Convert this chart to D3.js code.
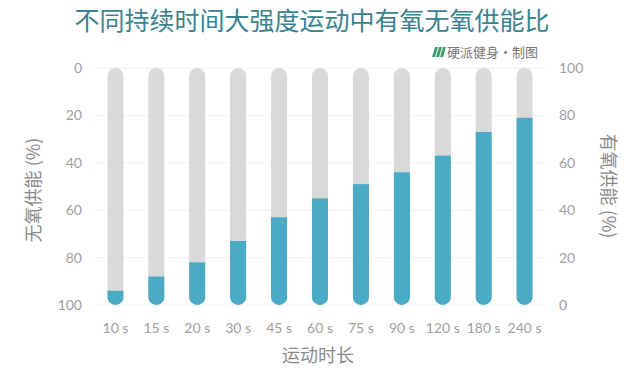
<!DOCTYPE html>
<html>
<head>
<meta charset="utf-8">
<script src="https://cdn.jsdelivr.net/npm/d3@7"></script>
<style>
  body { margin: 0; background: #fff; }
  svg { display: block; font-family: "Noto Sans CJK SC", "Lato", sans-serif; }
</style>
</head>
<body>
<script>
var durations = ["10 s", "15 s", "20 s", "30 s", "45 s", "60 s", "75 s", "90 s", "120 s", "180 s", "240 s"];
var anaerobic = [94, 88, 82, 73, 63, 55, 49, 44, 37, 27, 21];
var aerobic = [6, 12, 18, 27, 37, 45, 51, 56, 63, 73, 79];
var ticks = [0, 20, 40, 60, 80, 100];

var W = 640, H = 378;
var margin = {top: 68, right: 95, bottom: 73, left: 95};

var svg = d3.select("body").append("svg")
    .attr("width", W)
    .attr("height", H);

var x = d3.scaleBand()
    .domain(durations)
    .range([margin.left, W - margin.right])
    .paddingInner(0.6)
    .paddingOuter(0.3);

// left: anaerobic, 0 at top
var yL = d3.scaleLinear().domain([0, 100]).range([margin.top, H - margin.bottom]);
// right: aerobic, 0 at bottom
var yR = d3.scaleLinear().domain([0, 100]).range([H - margin.bottom, margin.top]);

// title
svg.append("text")
    .attr("x", 312)
    .attr("y", 30)
    .attr("text-anchor", "middle")
    .style("font-size", "25px")
    .style("font-weight", "normal")
    .style("fill", "#3a8390")
    .text("不同持续时间大强度运动中有氧无氧供能比");

// credit
var credit = svg.append("g").attr("transform", "translate(432,57)");
[0, 4, 8].forEach(function(o) {
  credit.append("path")
      .attr("d", "M" + (o + 3) + ",-10 L" + (o + 6) + ",-10 L" + (o + 3) + ",0 L" + o + ",0 Z")
      .style("fill", "#3aa06b");
});
credit.append("text")
    .attr("x", 15)
    .attr("y", 0)
    .style("font-size", "13px")
    .style("fill", "#777")
    .text("硬派健身·制图");

// grid
svg.selectAll("line.grid").data(ticks).enter()
  .append("line")
    .attr("class", "grid")
    .attr("x1", margin.left)
    .attr("x2", W - margin.right)
    .attr("y1", function(d) { return yL(d); })
    .attr("y2", function(d) { return yL(d); })
    .style("stroke", "#f2f2f2")
    .style("stroke-width", 1);

// axes
var axL = svg.append("g")
    .attr("transform", "translate(" + (margin.left - 13) + ",0)")
    .call(d3.axisLeft(yL).tickValues(ticks).tickSize(0).tickPadding(0));
var axR = svg.append("g")
    .attr("transform", "translate(" + (W - margin.right + 14) + ",0)")
    .call(d3.axisRight(yR).tickValues(ticks).tickSize(0).tickPadding(0));
var axB = svg.append("g")
    .attr("transform", "translate(0," + (H - margin.bottom + 8) + ")")
    .call(d3.axisBottom(x).tickSize(0).tickPadding(10));
[axL, axR, axB].forEach(function(a) {
  a.select(".domain").remove();
  a.selectAll("text")
      .style("font-family", "Lato, sans-serif")
      .style("font-size", "14px")
      .style("fill", "#a0a0a0");
});

// bars
var defs = svg.append("defs");
var bw = x.bandwidth();

durations.forEach(function(d, i) {
  defs.append("clipPath")
      .attr("id", "clip" + i)
    .append("rect")
      .attr("x", x(d))
      .attr("y", yL(0))
      .attr("width", bw)
      .attr("height", yL(100) - yL(0))
      .attr("rx", bw / 2)
      .attr("ry", bw / 2);
});

var bars = svg.selectAll("g.bar").data(durations).enter()
  .append("g")
    .attr("class", "bar")
    .attr("clip-path", function(d, i) { return "url(#clip" + i + ")"; });

bars.append("rect")
    .attr("x", function(d) { return x(d); })
    .attr("y", yL(0))
    .attr("width", bw)
    .attr("height", yL(100) - yL(0))
    .style("fill", "#d9d9d9");

bars.append("rect")
    .attr("x", function(d) { return x(d); })
    .attr("y", function(d, i) { return yR(aerobic[i]); })
    .attr("width", bw)
    .attr("height", function(d, i) { return yR(0) - yR(aerobic[i]); })
    .style("fill", "#4aabc7");

// axis titles
svg.append("text")
    .attr("transform", "translate(40,190) rotate(-90)")
    .attr("text-anchor", "middle")
    .style("font-size", "18px")
    .style("fill", "#8a8a8a")
    .text("无氧供能 (%)");

svg.append("text")
    .attr("transform", "translate(602,186) rotate(90)")
    .attr("text-anchor", "middle")
    .style("font-size", "18px")
    .style("fill", "#8a8a8a")
    .text("有氧供能 (%)");

svg.append("text")
    .attr("x", 318)
    .attr("y", 362)
    .attr("text-anchor", "middle")
    .style("font-size", "18px")
    .style("fill", "#8a8a8a")
    .text("运动时长");
</script>
</body>
</html>
